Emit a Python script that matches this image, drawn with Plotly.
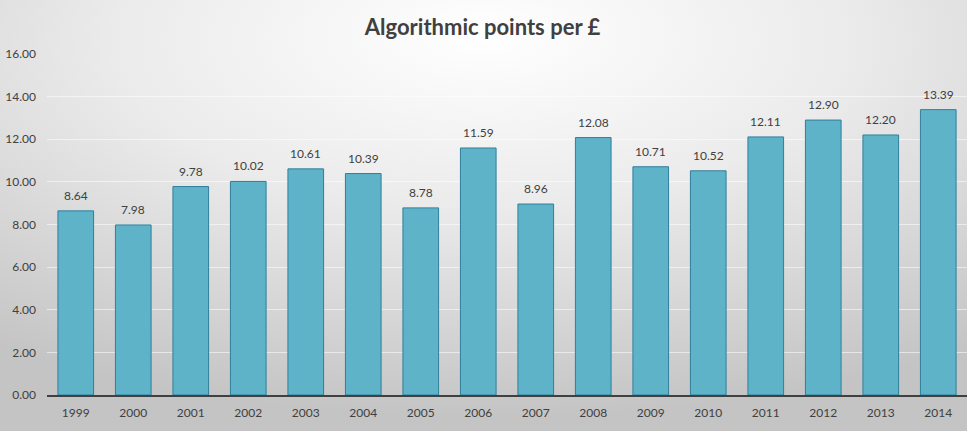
import base64
import plotly.graph_objects as go

years = ["1999", "2000", "2001", "2002", "2003", "2004", "2005", "2006",
         "2007", "2008", "2009", "2010", "2011", "2012", "2013", "2014"]
points_per_pound = [8.64, 7.98, 9.78, 10.02, 10.61, 10.39, 8.78, 11.59,
                    8.96, 12.08, 10.71, 10.52, 12.11, 12.90, 12.20, 13.39]
y_ticks = [0, 2, 4, 6, 8, 10, 12, 14, 16]

W, H = 967, 431
ML, MR, MT, MB = 47, 0, 54, 36
PW, PH = W - ML - MR, H - MT - MB

svg = f'''<svg xmlns="http://www.w3.org/2000/svg" width="{W}" height="{H}" viewBox="0 0 {W} {H}" preserveAspectRatio="none">
<defs><radialGradient id="g" cx="0.5" cy="0.12" r="0.85" fx="0.5" fy="0.08">
<stop offset="0" stop-color="#ffffff"/>
<stop offset="0.45" stop-color="#ebebeb"/>
<stop offset="1" stop-color="#c4c4c4"/>
</radialGradient></defs>
<rect width="{W}" height="{H}" fill="url(#g)"/></svg>'''
src = "data:image/svg+xml;base64," + base64.b64encode(svg.encode()).decode()

fig = go.Figure(go.Bar(
    x=years, y=points_per_pound,
    marker=dict(color="#5fb3c9", line=dict(color="#2f7f9b", width=1)),
    cliponaxis=False, hoverinfo="x+y",
))

# category axis: annotation x given as category index
annotations = [dict(x=i, y=v, xref="x", yref="y", text=f"{v:.2f}", showarrow=False,
                    yanchor="bottom", yshift=6,
                    font=dict(family="Lato, sans-serif", size=12, color="#404040"))
               for i, v in enumerate(points_per_pound)]

fig.update_layout(
    width=W, height=H,
    margin=dict(l=ML, r=MR, t=MT, b=MB),
    paper_bgcolor="#d0d0d0", plot_bgcolor="rgba(0,0,0,0)",
    bargap=0.38,
    title=dict(text="<b>Algorithmic points per £</b>", x=0.499, xanchor="center",
               y=1 - 27 / H, yanchor="middle",
               font=dict(family="Lato, sans-serif", size=22, color="#404040")),
    font=dict(family="Lato, sans-serif", size=12, color="#404040"),
    showlegend=False,
    annotations=annotations,
    images=[dict(source=src, xref="paper", yref="paper",
                 x=-ML / PW, y=1 + MT / PH, sizex=W / PW, sizey=H / PH,
                 xanchor="left", yanchor="top", sizing="stretch", layer="below")],
)
fig.update_xaxes(type="category", categoryorder="array", categoryarray=years,
                 range=[-0.5, len(years) - 0.5],
                 showgrid=False, showline=True, linecolor="#404040", linewidth=2,
                 ticks="", ticklabelstandoff=6, tickfont=dict(size=12, color="#404040"))
fig.update_yaxes(range=[0, 16], tickvals=y_ticks, tickformat=".2f",
                 showgrid=True, gridcolor="rgba(255,255,255,0.55)", gridwidth=1,
                 zeroline=False, showline=False, ticks="", ticklabelstandoff=10,
                 tickfont=dict(size=12, color="#404040"))

fig.write_html("out.html")
